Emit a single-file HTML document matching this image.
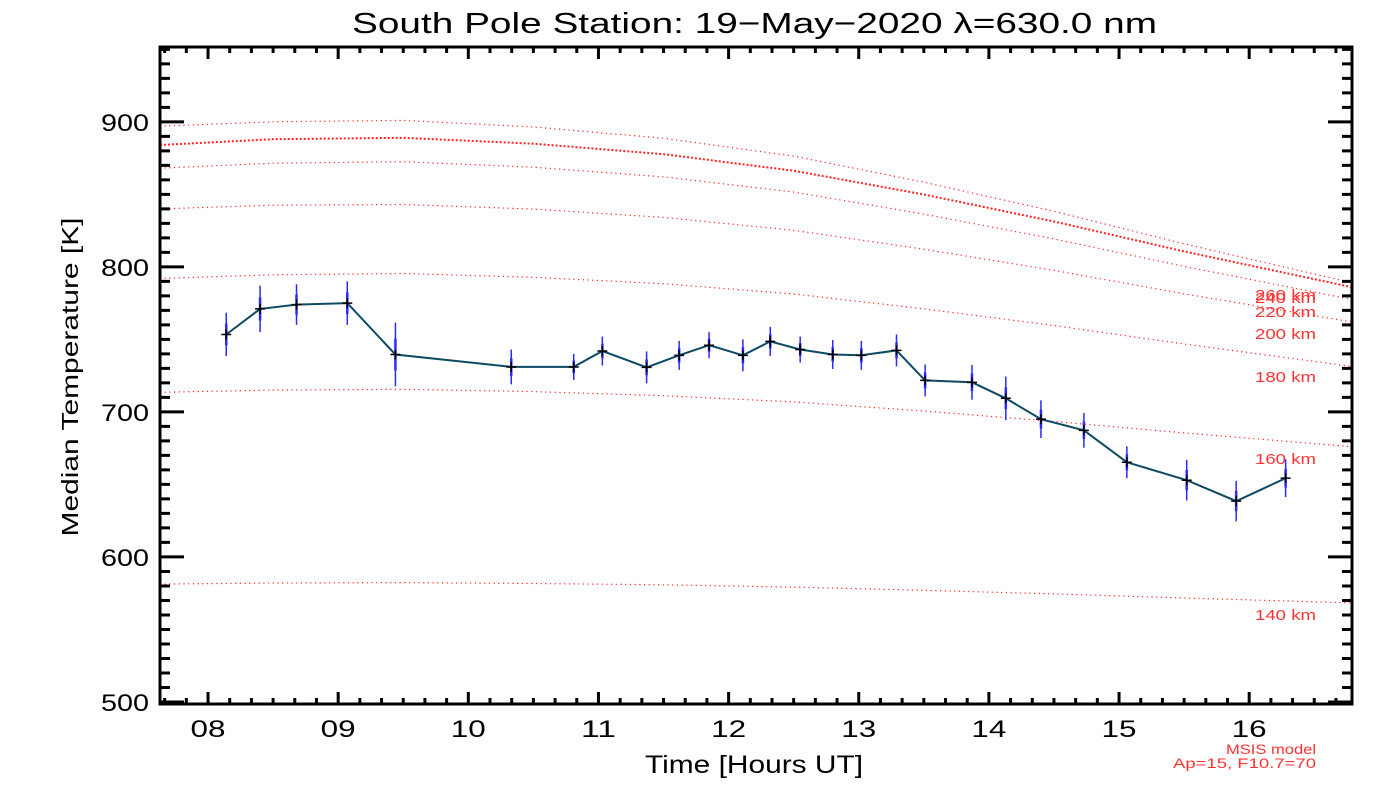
<!DOCTYPE html>
<html><head><meta charset="utf-8"><style>
html,body{margin:0;padding:0;background:#fff;}
svg{display:block;font-family:"Liberation Sans",sans-serif;}
</style></head><body>
<svg id="chart" width="1400" height="800" viewBox="0 0 1400 800">
<text x="352" y="33" font-size="29" textLength="805" lengthAdjust="spacingAndGlyphs" fill="#000">South Pole Station: 19−May−2020 λ=630.0 nm</text>
<text transform="translate(78,377) rotate(-90)" font-size="23" text-anchor="middle" textLength="319" lengthAdjust="spacingAndGlyphs" fill="#000">Median Temperature [K]</text>
<text x="645" y="773" font-size="25" textLength="218" lengthAdjust="spacingAndGlyphs" fill="#000">Time [Hours UT]</text>
<text x="1226" y="754" font-size="14" textLength="90" lengthAdjust="spacingAndGlyphs" fill="#ff3333">MSIS model</text>
<text x="1173" y="768" font-size="14" textLength="143" lengthAdjust="spacingAndGlyphs" fill="#ff3333">Ap=15, F10.7=70</text>
</svg>
<script>
const times = [8.14,8.40,8.68,9.07,9.44,10.33,10.81,11.03,11.37,11.62,11.85,12.11,12.32,12.55,12.80,13.02,13.29,13.51,13.87,14.13,14.40,14.73,15.06,15.52,15.90,16.28];
const temps = [753.4,771,774,775,739.6,731,731,742,730.7,739,746,739,748.6,743,739.6,739,742.4,721.7,720.4,709.4,695,687.3,665.3,652.9,638.5,654.3];
const errs = [15,16,14,15,22,12,9,10,11,10,9,11,10,9,10,10,11,11,12,15,13,12,11,14,14,13];
const msisTimes = [7.63,8.5,9.5,10.5,11.5,12.5,13.5,14.5,15.5,16.79];
const msisAlts = [260,240,220,200,180,160,140];
const msis260 = [897,900,901,896.5,888.7,876.4,858.4,838.3,815.9,789];
const msis240 = [884,888,889,884.9,877.7,866.3,849.9,831.3,810.7,786];
const msis220 = [868,871.5,872.5,868.7,862,851.6,836.4,819.3,800.3,777.5];
const msis200 = [840,842.5,843,839.8,834.1,825.2,812.2,797.6,781.4,762];
const msis180 = [792,794.5,795.4,792.8,788.4,781.3,771.1,759.6,746.8,731.4];
const msis160 = [713.5,715,715.6,714,711.2,706.9,700.6,693.4,685.5,676];
const msis140 = [581.3,582,582.3,581.7,580.8,579.2,577,574.5,571.7,568.3];
const msisLabelY = [295,298,312,334,377,459,615];
const xTicks = [8,9,10,11,12,13,14,15,16];
const xTickLabels = ["08","09","10","11","12","13","14","15","16"];
const yTicks = [500,600,700,800,900];

const X0=160,X1=1352,Y0=47,Y1=704;
const xMin=7.631,xMax=16.79,yMin=498.6,yMax=951.6;
const sx=t=>X0+(t-xMin)/(xMax-xMin)*(X1-X0);
const sy=v=>Y1-(v-yMin)/(yMax-yMin)*(Y1-Y0);
const NS="http://www.w3.org/2000/svg";
const svg=document.getElementById('chart');
function mk(tag,attrs,parent){const e=document.createElementNS(NS,tag);for(const k in attrs)e.setAttribute(k,attrs[k]);(parent||svg).appendChild(e);return e;}

const curves=[msis260,msis240,msis220,msis200,msis180,msis160,msis140];
curves.forEach((c,i)=>{
  const pts=c.map((v,j)=>sx(msisTimes[j]).toFixed(1)+","+sy(v).toFixed(1)).join(" ");
  const thick = msisAlts[i]===240;
  const pl=mk('polyline',{points:pts,fill:'none',stroke:'#ff2020','stroke-width':thick?2:1.2,'stroke-dasharray':thick?'2 2':'1.2 3.5'});
  
  
  const tx=mk('text',{x:1255,y:msisLabelY[i]+5,'font-size':15,fill:'#ff3333',textLength:61,lengthAdjust:'spacingAndGlyphs'});
  tx.textContent=msisAlts[i]+' km';
  
  
});

times.forEach((t,i)=>{
  const x=sx(t);
  const b=mk('line',{x1:x,x2:x,y1:sy(temps[i]+errs[i]),y2:sy(temps[i]-errs[i]),stroke:'#2a2aff','stroke-width':1.5});
  
  
  const b2=mk('line',{x1:x,x2:x,y1:sy(temps[i]+errs[i]/2),y2:sy(temps[i]-errs[i]/2),stroke:'#2a2aff','stroke-width':2.5});
  
  
});
const line=mk('polyline',{points:times.map((t,i)=>sx(t).toFixed(1)+","+sy(temps[i]).toFixed(1)).join(" "),fill:'none',stroke:'#0d4a63','stroke-width':2});


times.forEach((t,i)=>{
  const x=sx(t),y=sy(temps[i]);
  const p=mk('path',{d:`M${x-5},${y}H${x+5}M${x},${y-5}V${y+5}`,stroke:'#000','stroke-width':1.5});
  
  
});

const fr=mk('rect',{x:X0,y:Y0,width:X1-X0,height:Y1-Y0,fill:'none',stroke:'#000','stroke-width':3});


let d='';
for(let m=Math.ceil(xMin*6);m<=xMax*6;m++){
  const x=sx(m/6);const major=(m%6===0);const L=major?12:6;
  d+=`M${x},${Y1}V${Y1-L}M${x},${Y0}V${Y0+L}`;
}
for(let v=500;v<=950;v+=10){
  const y=sy(v);const major=(v%100===0);const L=major?24:10;
  d+=`M${X0},${y}H${X0+L}M${X1},${y}H${X1-L}`;
}
const tk=mk('path',{d:d,stroke:'#000','stroke-width':3,fill:'none'});


xTicks.forEach((t,i)=>{
  const tx=mk('text',{x:sx(t),y:737,'font-size':24,'text-anchor':'middle',fill:'#000',textLength:35,lengthAdjust:'spacingAndGlyphs'});
  tx.textContent=xTickLabels[i];
  
  
});
yTicks.forEach(v=>{
  const tx=mk('text',{x:149,y:sy(v)+9,'font-size':24,'text-anchor':'end',fill:'#000',textLength:48,lengthAdjust:'spacingAndGlyphs'});
  tx.textContent=v;
  
  
});
</script>
</body></html>
